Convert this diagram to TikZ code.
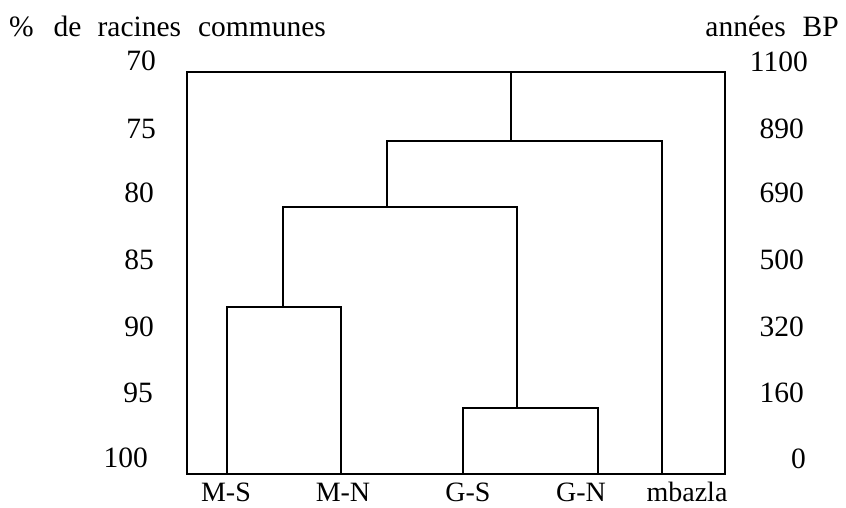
\documentclass[tikz,border=0pt]{standalone}
\usepackage{fontspec}
\setmainfont{Liberation Serif}
\begin{document}
\begin{tikzpicture}[x={(1pt,0pt)}, y={(0pt,-1pt)},
  every node/.style={inner sep=0pt, font=\fontsize{29.5}{31}\selectfont},
  branch/.style={line width=1.7pt, line join=miter},
  leftlab/.style={anchor=east},
  rightlab/.style={anchor=east},
  leaflab/.style={anchor=base, font=\fontsize{28}{30}\selectfont}]
\useasboundingbox (0,0) rectangle (846,507);

% axis titles
\node[anchor=west] (ttl) at (9,26) {\%\hspace{20pt}de\hspace{16pt}racines\hspace{17pt}communes};
\node[anchor=east] (ttr) at (839,26) {années\hspace{17pt}BP};

% frame
\coordinate (tl) at (187,72);
\coordinate (br) at (725,474);
\draw[branch] (tl) rectangle (br);

% left scale: % shared roots
\node[leftlab] (l70)  at (156,61)  {70};
\node[leftlab] (l75)  at (156,129) {75};
\node[leftlab] (l80)  at (154,193) {80};
\node[leftlab] (l85)  at (154,260) {85};
\node[leftlab] (l90)  at (154,327) {90};
\node[leftlab] (l95)  at (153,393) {95};
\node[leftlab] (l100) at (148,458) {100};

% right scale: years BP
\node[rightlab] (r1100) at (808,62)  {1100};
\node[rightlab] (r890)  at (804,129) {890};
\node[rightlab] (r690)  at (804,193) {690};
\node[rightlab] (r500)  at (804,260) {500};
\node[rightlab] (r320)  at (804,327) {320};
\node[rightlab] (r160)  at (804,393) {160};
\node[rightlab] (r0)    at (806,459) {0};

% leaves
\coordinate (ms) at (227,474);
\coordinate (mn) at (341,474);
\coordinate (gs) at (463,474);
\coordinate (gn) at (598,474);
\coordinate (mb) at (662,474);

% merge points
\coordinate (m1) at (283,307); % M-S + M-N
\coordinate (g1) at (517,408); % G-S + G-N
\coordinate (c1) at (387,207); % M + G
\coordinate (c2) at (511,141); % + mbazla
\coordinate (root) at (511,72);

% dendrogram
\draw[branch] (ms) |- (m1) -| (mn);
\draw[branch] (gs) |- (g1) -| (gn);
\draw[branch] (m1) |- (c1) -| (g1);
\draw[branch] (c1) |- (c2) -| (mb);
\draw[branch] (c2) -- (root);

% leaf labels
\node[leaflab] (lms) at (226,501) {M-S};
\node[leaflab] (lmn) at (343,501) {M-N};
\node[leaflab] (lgs) at (468,501) {G-S};
\node[leaflab] (lgn) at (581,501) {G-N};
\node[leaflab] (lmb) at (687,501) {mbazla};
\end{tikzpicture}
\end{document}
